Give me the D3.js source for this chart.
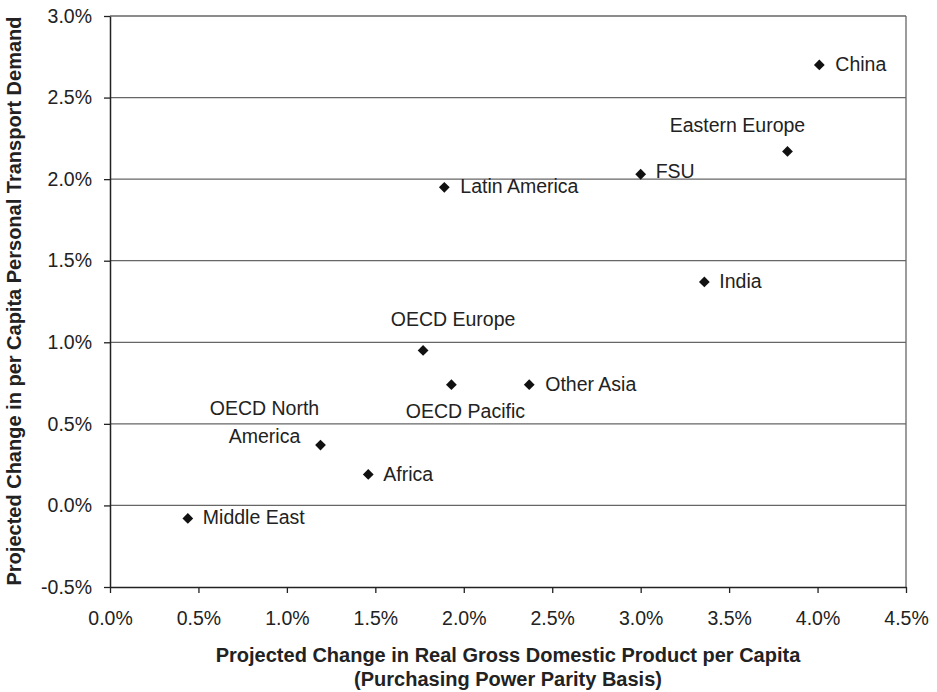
<!DOCTYPE html>
<html>
<head>
<meta charset="utf-8">
<script src="https://d3js.org/d3.v7.min.js"></script>
<style>
  body { margin: 0; background: #fff; }
  text { font-family: "Liberation Sans", Arial, sans-serif; fill: #222; }
</style>
</head>
<body>
<div id="wrapper"></div>
<script>
  // regions and their projected % changes (x: GDP per capita, y: transport demand)
  var regions = ["China", "Eastern Europe", "FSU", "Latin America", "India", "OECD Europe",
                 "OECD Pacific", "Other Asia", "OECD North America", "Africa", "Middle East"];
  var gdpChange    = [4.01, 3.83, 3.00, 1.89, 3.36, 1.77, 1.93, 2.37, 1.19, 1.46, 0.44];
  var demandChange = [2.70, 2.17, 2.03, 1.95, 1.37, 0.95, 0.74, 0.74, 0.37, 0.19, -0.08];

  var xTicks = [0, 0.5, 1, 1.5, 2, 2.5, 3, 3.5, 4, 4.5];
  var yTicks = [-0.5, 0, 0.5, 1, 1.5, 2, 2.5, 3];

  var xTitle = ["Projected Change in Real Gross Domestic Product per Capita",
                "(Purchasing Power Parity Basis)"];
  var yTitle = "Projected Change in per Capita Personal Transport Demand";

  // label placement relative to each marker: [dx, dy, anchor]
  var labelPlace = {
    "China": [16, 6, "start"],
    "Eastern Europe": [-50, -19, "middle"],
    "FSU": [15, 4, "start"],
    "Latin America": [16, 6, "start"],
    "India": [15, 6, "start"],
    "OECD Europe": [30, -24, "middle"],
    "OECD Pacific": [14, 33, "middle"],
    "Other Asia": [16, 6, "start"],
    "OECD North America": [-56, -30, "middle"],
    "Africa": [15, 7, "start"],
    "Middle East": [15, 6, "start"]
  };

  var width = 937, height = 692;
  var plotLeft = 110, plotRight = 906, plotTop = 16, plotBottom = 587;

  var svg = d3.select("#wrapper").append("svg")
    .attr("width", width).attr("height", height);

  var x = d3.scaleLinear().domain([0, 4.5]).range([plotLeft, plotRight]);
  var y = d3.scaleLinear().domain([-0.5, 3]).range([plotBottom, plotTop]);

  // plain hyphen for negatives, like the original
  var fmt = function(d) { return d.toFixed(1) + "%"; };

  // gridlines
  svg.append("g").selectAll("line").data(yTicks.filter(function(d){ return d > -0.5; }))
    .enter().append("line")
    .attr("x1", plotLeft).attr("x2", plotRight)
    .attr("y1", function(d){ return y(d); }).attr("y2", function(d){ return y(d); })
    .attr("stroke", "#666").attr("stroke-width", 1.3);

  // right border
  svg.append("line").attr("x1", plotRight).attr("x2", plotRight).attr("y1", plotTop).attr("y2", plotBottom)
    .attr("stroke", "#666").attr("stroke-width", 1.3);

  var xAxis = svg.append("g").attr("transform", "translate(0," + plotBottom + ")")
    .call(d3.axisBottom(x).tickValues(xTicks).tickFormat(fmt).tickSize(6).tickPadding(18).tickSizeOuter(0));
  var yAxis = svg.append("g").attr("transform", "translate(" + plotLeft + ",0)")
    .call(d3.axisLeft(y).tickValues(yTicks).tickFormat(fmt).tickSize(6).tickPadding(12).tickSizeOuter(0));

  [xAxis, yAxis].forEach(function(a) {
    a.select(".domain").attr("stroke", "#222").attr("stroke-width", 1.5);
    a.selectAll(".tick line").attr("stroke", "#222").attr("stroke-width", 1.3);
    a.selectAll("text").attr("font-size", 19.5).attr("fill", "#222")
      .attr("font-family", "Liberation Sans, Arial, sans-serif");
  });

  // markers
  var pts = regions.map(function(r, i) {
    return { name: r, gx: gdpChange[i], dy: demandChange[i] };
  });

  svg.append("g").selectAll("path").data(pts).enter().append("path")
    .attr("d", d3.symbol().type(d3.symbolSquare).size(58))
    .attr("transform", function(d){ return "translate(" + x(d.gx) + "," + y(d.dy) + ") rotate(45)"; })
    .attr("fill", "#111");

  // labels
  var lab = svg.append("g").selectAll("text").data(pts).enter().append("text")
    .attr("x", function(d){ return x(d.gx) + labelPlace[d.name][0]; })
    .attr("y", function(d){ return y(d.dy) + labelPlace[d.name][1]; })
    .attr("text-anchor", function(d){ return labelPlace[d.name][2]; })
    .attr("font-size", 19.5);

  lab.each(function(d) {
    var t = d3.select(this);
    if (d.name == "OECD North America") {
      t.append("tspan").attr("x", t.attr("x")).text("OECD North");
      t.append("tspan").attr("x", t.attr("x")).attr("dy", 28).text("America");
    } else {
      t.text(d.name);
    }
  });

  // axis titles
  var xt = svg.append("text").attr("text-anchor", "middle").attr("font-weight", "bold").attr("font-size", 20);
  xTitle.forEach(function(s, i) {
    xt.append("tspan").attr("x", 508).attr("y", 662 + i * 24).text(s);
  });

  svg.append("text")
    .attr("transform", "translate(21," + 301 + ") rotate(-90)")
    .attr("text-anchor", "middle").attr("font-weight", "bold").attr("font-size", 20)
    .text(yTitle);
</script>
</body>
</html>
